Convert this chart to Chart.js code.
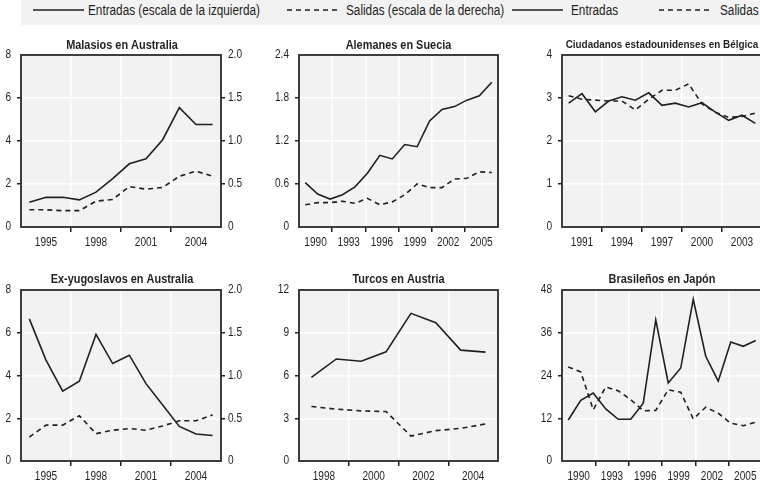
<!DOCTYPE html>
<html>
<head>
<meta charset="utf-8">
<script src="https://cdn.jsdelivr.net/npm/chart.js@4"></script>
<style>
  html, body { margin: 0; padding: 0; background: #fff; overflow: hidden; }
  body { width: 760px; height: 486px; position: relative; color: #231f20;
         font-family: 'Liberation Sans', Arial, sans-serif; }
  #legend { position: absolute; left: 21px; top: 0; width: 739px; height: 25px; background: #f2f2f2; font-size: 14px; }
  #legend svg, #legend span { position: absolute; }
  #legend svg { top: 8px; }
  #legend span { top: 2px; white-space: nowrap; transform: scaleX(0.84); transform-origin: 0 50%; }
  canvas { position: absolute; }
</style>
</head>
<body>
<div id="legend">
  <svg style="left:12px" width="51" height="4"><line x1="0" y1="2" x2="51" y2="2" stroke="#231f20" stroke-width="1.4"/></svg>
  <span style="left:67px">Entradas (escala de la izquierda)</span>
  <svg style="left:266px" width="50" height="4"><line x1="0" y1="2" x2="50" y2="2" stroke="#231f20" stroke-width="1.4" stroke-dasharray="5 4"/></svg>
  <span style="left:325px">Salidas (escala de la derecha)</span>
  <svg style="left:491px" width="51" height="4"><line x1="0" y1="2" x2="51" y2="2" stroke="#231f20" stroke-width="1.4"/></svg>
  <span style="left:550px">Entradas</span>
  <svg style="left:638px" width="50" height="4"><line x1="0" y1="2" x2="50" y2="2" stroke="#231f20" stroke-width="1.4" stroke-dasharray="5 4"/></svg>
  <span style="left:699px">Salidas</span>
</div>

<canvas id="malasios" width="244" height="226" style="left:0;top:28px"></canvas>
<canvas id="alemanes" width="257" height="226" style="left:270px;top:28px"></canvas>
<canvas id="eeuu" width="264" height="226" style="left:530px;top:28px"></canvas>
<canvas id="yugos" width="244" height="224" style="left:0;top:262px"></canvas>
<canvas id="turcos" width="257" height="224" style="left:270px;top:262px"></canvas>
<canvas id="brasil" width="264" height="224" style="left:530px;top:262px"></canvas>

<script>
// Malasios en Australia (left scale: entradas, right scale: salidas)
const malYears = [1994, 1995, 1996, 1997, 1998, 1999, 2000, 2001, 2002, 2003, 2004, 2005]
const malLabels = ['1995', '1998', '2001', '2004']
const malIn = [1.15, 1.38, 1.38, 1.26, 1.62, 2.25, 2.94, 3.17, 4.06, 5.55, 4.77, 4.77]
const malOut = [0.20, 0.20, 0.19, 0.19, 0.30, 0.32, 0.47, 0.44, 0.46, 0.59, 0.65, 0.59]

// Alemanes en Suecia
const aleYears = [1990, 1991, 1992, 1993, 1994, 1995, 1996, 1997, 1998, 1999, 2000, 2001, 2002, 2003, 2004, 2005]
const aleLabels = ['1990', '1993', '1996', '1999', '2002', '2005']
const aleIn = [0.62, 0.46, 0.39, 0.45, 0.56, 0.75, 1.00, 0.95, 1.15, 1.12, 1.48, 1.64, 1.68, 1.77, 1.83, 2.02]
const aleOut = [0.31, 0.34, 0.34, 0.36, 0.33, 0.40, 0.31, 0.35, 0.45, 0.60, 0.55, 0.55, 0.67, 0.68, 0.77, 0.76]

// Ciudadanos estadounidenses en Bélgica
const usaYears = [1990, 1991, 1992, 1993, 1994, 1995, 1996, 1997, 1998, 1999, 2000, 2001, 2002, 2003, 2004]
const usaLabels = ['1991', '1994', '1997', '2000', '2003']
const usaIn = [2.88, 3.10, 2.68, 2.93, 3.03, 2.95, 3.12, 2.83, 2.88, 2.79, 2.89, 2.67, 2.48, 2.60, 2.41]
const usaOut = [3.05, 2.97, 2.95, 2.93, 2.93, 2.72, 2.97, 3.18, 3.18, 3.33, 2.86, 2.67, 2.55, 2.57, 2.65]

// Ex-yugoslavos en Australia (left scale: entradas, right scale: salidas)
const yugYears = [1994, 1995, 1996, 1997, 1998, 1999, 2000, 2001, 2002, 2003, 2004, 2005]
const yugLabels = ['1995', '1998', '2001', '2004']
const yugIn = [6.65, 4.72, 3.27, 3.73, 5.92, 4.56, 4.95, 3.62, 2.62, 1.62, 1.26, 1.19]
const yugOut = [0.28, 0.42, 0.42, 0.53, 0.32, 0.36, 0.38, 0.36, 0.41, 0.47, 0.47, 0.54]

// Turcos en Austria
const turYears = [1998, 1999, 2000, 2001, 2002, 2003, 2004, 2005]
const turLabels = ['1998', '2000', '2002', '2004']
const turIn = [5.87, 7.16, 7.00, 7.66, 10.36, 9.71, 7.78, 7.64]
const turOut = [3.82, 3.64, 3.52, 3.47, 1.75, 2.13, 2.29, 2.60]

// Brasileños en Japón
const braYears = [1990, 1991, 1992, 1993, 1994, 1995, 1996, 1997, 1998, 1999, 2000, 2001, 2002, 2003, 2004, 2005]
const braLabels = ['1990', '1993', '1996', '1999', '2002', '2005']
const braIn = [11.5, 17.0, 19.1, 14.6, 11.7, 11.7, 16.2, 39.6, 21.9, 26.1, 45.4, 29.4, 22.4, 33.4, 32.2, 33.8]
const braOut = [26.4, 25.0, 14.4, 20.8, 19.7, 17.2, 14.1, 14.2, 20.0, 19.3, 11.8, 15.1, 13.4, 10.6, 9.9, 10.9]

const ink = '#231f20'
const none = 'rgba(0,0,0,0)'
Chart.defaults.font.family = "'Liberation Sans', Arial, sans-serif"
Chart.defaults.font.size = 12
Chart.defaults.color = ink
Chart.defaults.animation = false

// the original uses a condensed face: squeeze canvas text horizontally
const squeeze = 0.84
const rawFillText = CanvasRenderingContext2D.prototype.fillText
CanvasRenderingContext2D.prototype.fillText = function (text, x, y, maxWidth) {
  const w = this.measureText(text).width * squeeze
  return rawFillText.call(this, text, x, y, maxWidth === undefined ? w : Math.min(w, maxWidth))
}

// grey plot area and dark frame
const plotFrame = {
  id: 'plotFrame',
  beforeDraw(chart) {
    const { ctx, chartArea: a } = chart
    ctx.save()
    ctx.fillStyle = '#f2f2f2'
    ctx.fillRect(a.left, a.top, a.width, a.height)
    ctx.restore()
  },
  afterDatasetsDraw(chart) {
    const { ctx, chartArea: a } = chart
    ctx.save()
    ctx.strokeStyle = '#2b2b2b'
    ctx.lineWidth = 1.8
    ctx.strokeRect(a.left, a.top, a.width, a.height)
    ctx.restore()
  }
}

// x axis: plot split into equal segments, tick marks on the boundaries, year label in the middle
function xAxis(years, labels, h) {
  const min = years[0] - 0.5
  const max = years[years.length - 1] + 0.5
  const w = (max - min) / labels.length
  return {
    type: 'linear', min, max,
    afterBuildTicks: (s) => {
      const t = []
      labels.forEach((l, k) => {
        if (k > 0) t.push({ value: min + k * w, edge: true })
        t.push({ value: min + (k + 0.5) * w, text: l })
      })
      s.ticks = t
    },
    afterFit: (s) => { s.height = h },
    ticks: { autoSkip: false, maxRotation: 0, padding: 3, callback: (v, i, t) => t[i].text || '' },
    grid: {
      lineWidth: 1.5, tickLength: 5,
      color: (c) => (c.tick && c.tick.edge ? '#fff' : none),
      tickColor: (c) => (c.tick && c.tick.edge ? ink : none),
    },
    border: { display: false },
  }
}

function yAxis(max, step, w, pos, fmt) {
  return {
    position: pos, min: 0, max,
    afterFit: (s) => { s.width = w },
    ticks: { stepSize: step, padding: pos === 'left' ? 6 : 3, callback: fmt },
    grid: {
      drawOnChartArea: pos === 'left', color: '#fff', lineWidth: 1.5, tickLength: 4,
      tickColor: (c) => (c.tick && (c.tick.value === 0 || c.tick.value === max) ? none : ink),
    },
    border: { display: false },
  }
}

// empty right axis that only reserves room, so the title stays centred over the plot
function spacer(w) {
  return {
    position: 'right',
    afterFit: (s) => { s.width = w },
    ticks: { display: false },
    grid: { display: false },
    border: { display: false },
  }
}

const int = (v) => String(v)
const dec = (v) => (v === 0 ? '0' : v.toFixed(1))

function line(years, values, axis, dashed) {
  return {
    data: years.map((y, i) => ({ x: y, y: values[i] })),
    yAxisID: axis,
    borderColor: ink,
    borderWidth: 1.6,
    borderDash: dashed ? [5, 4] : [],
    pointRadius: 0,
    tension: 0,
  }
}

function panel(id, title, top, years, labels, datasets, scales, titleSize = 13) {
  new Chart(document.getElementById(id), {
    type: 'line',
    data: { datasets },
    options: {
      responsive: false,
      plugins: {
        legend: { display: false },
        tooltip: { enabled: false },
        title: {
          display: true, text: title, color: ink,
          font: { size: titleSize, weight: 'bold' },
          padding: top ? { top: 9.2, bottom: 2.2 + (13 - titleSize) * 1.2 } : { top: 9.2, bottom: 3.2 },
        },
      },
      scales: Object.assign({ x: xAxis(years, labels, top ? 27 : 25) }, scales),
    },
    plugins: [plotFrame],
  })
}

panel('malasios', 'Malasios en Australia', true, malYears, malLabels,
  [line(malYears, malIn, 'y', false), line(malYears, malOut, 'y2', true)],
  { y: yAxis(8, 2, 21, 'left', int), y2: yAxis(2, 0.5, 23, 'right', dec) })

panel('alemanes', 'Alemanes en Suecia', true, aleYears, aleLabels,
  [line(aleYears, aleIn, 'y', false), line(aleYears, aleOut, 'y', true)],
  { y: yAxis(2.4, 0.6, 29, 'left', dec), pad: spacer(29) })

panel('eeuu', 'Ciudadanos estadounidenses en Bélgica', true, usaYears, usaLabels,
  [line(usaYears, usaIn, 'y', false), line(usaYears, usaOut, 'y', true)],
  { y: yAxis(4, 1, 32, 'left', int), pad: spacer(32) }, 11.8)

panel('yugos', 'Ex-yugoslavos en Australia', false, yugYears, yugLabels,
  [line(yugYears, yugIn, 'y', false), line(yugYears, yugOut, 'y2', true)],
  { y: yAxis(8, 2, 21, 'left', int), y2: yAxis(2, 0.5, 23, 'right', dec) })

panel('turcos', 'Turcos en Austria', false, turYears, turLabels,
  [line(turYears, turIn, 'y', false), line(turYears, turOut, 'y', true)],
  { y: yAxis(12, 3, 29, 'left', int), pad: spacer(29) })

panel('brasil', 'Brasileños en Japón', false, braYears, braLabels,
  [line(braYears, braIn, 'y', false), line(braYears, braOut, 'y', true)],
  { y: yAxis(48, 12, 32, 'left', int), pad: spacer(32) })
</script>
</body>
</html>
